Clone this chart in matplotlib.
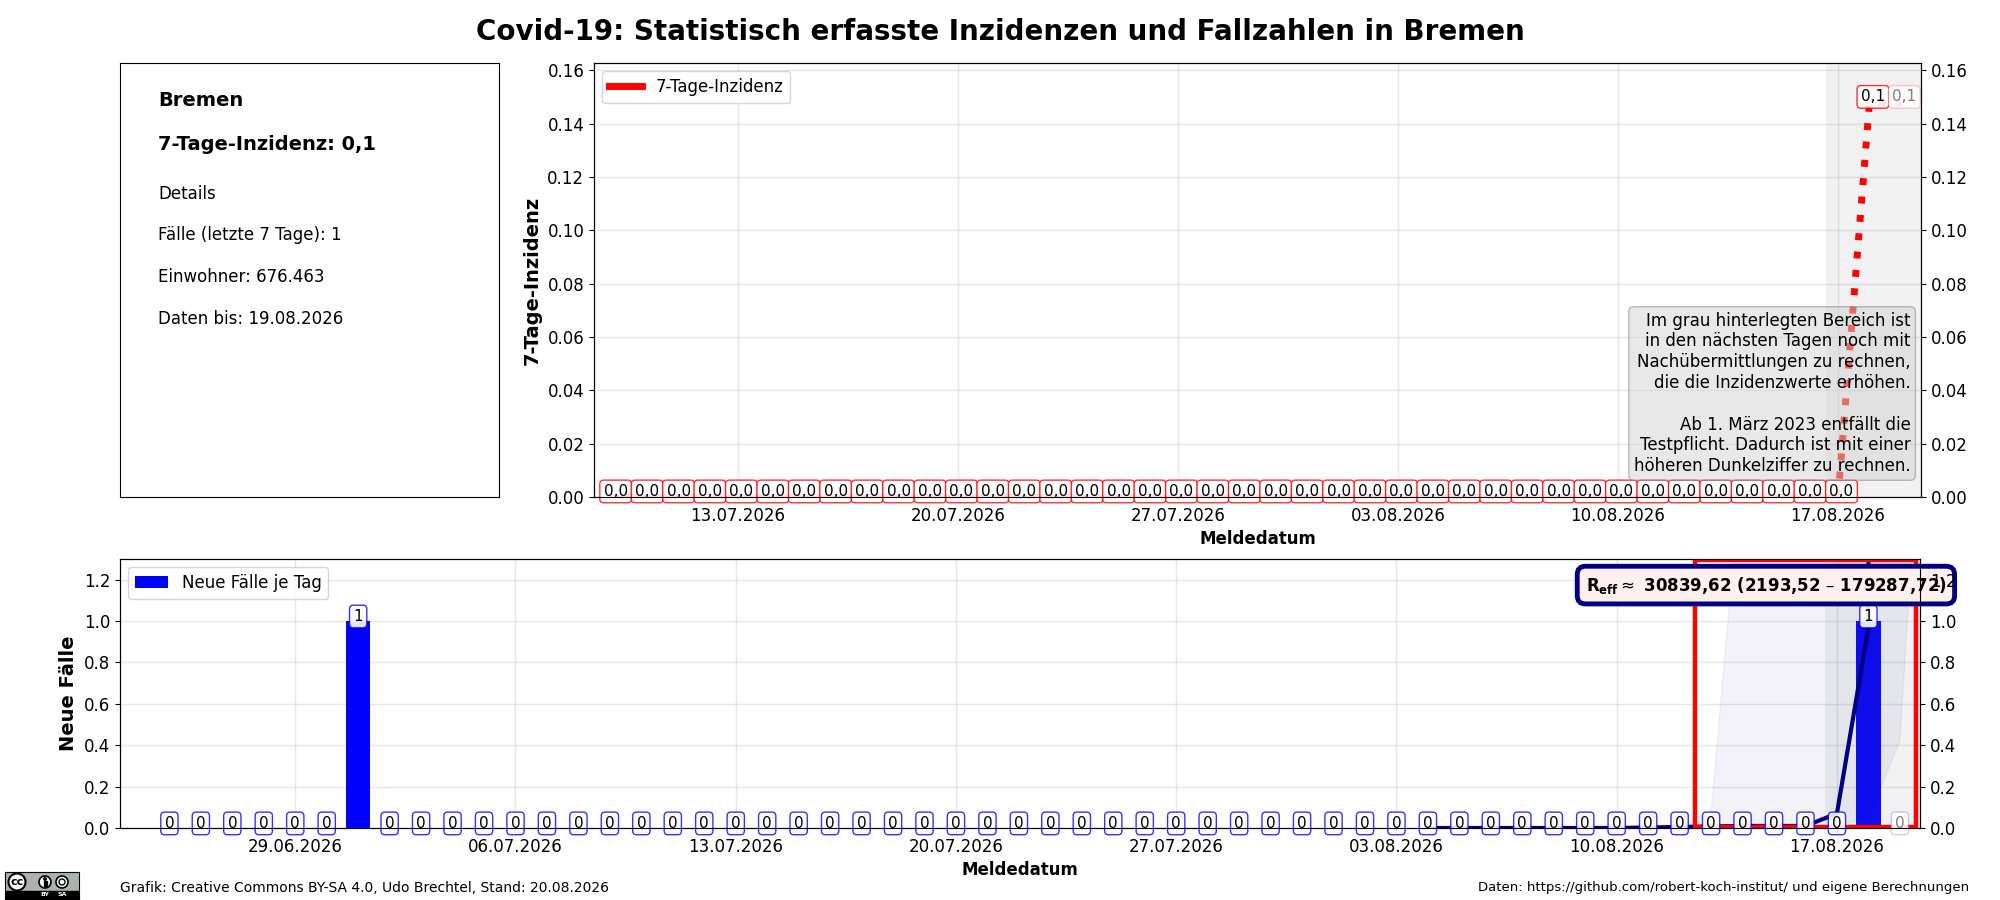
import matplotlib
matplotlib.use('Agg')
import matplotlib.pyplot as plt
import matplotlib.dates as mdates
from matplotlib.patches import Rectangle, Circle
from datetime import datetime, timedelta

W, H = 2000, 900

# Daten
start_inz = datetime(2026, 7, 9)
inzidenz = [0.0] * 40 + [0.148, 0.148]
start_faelle = datetime(2026, 6, 25)
faelle = [0, 0, 0, 0, 0, 0, 1] + [0] * 47 + [1, 0]
reff_tage = [datetime(2026, 8, d) for d in [4, 6, 8, 10, 12, 14, 16, 17, 18, 18]]
reff_werte = [0.0, 0.0, 0.0, 0.0, 0.005, 0.01, 0.01, 0.07, 0.97, 1.5]
band_tage = [datetime(2026, 8, d) for d in range(12, 21)]
band_unten = [0.0, 0.0, 0.0, 0.0, 0.0, 0.01, 0.05, 0.42, 2.85]
band_oben = [0.0, 0.08, 1.8, 5.0, 5.0, 5.0, 5.0, 5.0, 5.0]
info_titel = ['Bremen', '7-Tage-Inzidenz: 0,1']
info_zeilen = ['Details', 'Fälle (letzte 7 Tage): 1', 'Einwohner: 676.463', 'Daten bis: 19.08.2026']
hinweis = ('Im grau hinterlegten Bereich ist\nin den nächsten Tagen noch mit\n'
           'Nachübermittlungen zu rechnen,\ndie die Inzidenzwerte erhöhen.\n\n'
           'Ab 1. März 2023 entfällt die\nTestpflicht. Dadurch ist mit einer\n'
           'höheren Dunkelziffer zu rechnen.')
reff_text = r'$\mathbf{R_{eff}}\approx$ 30839,62 (2193,52 – 179287,72)'


def achse(x0, y0, x1, y1):
    # Pixel (von oben gezaehlt) nach Figure-Koordinaten
    return fig.add_axes([x0 / W, 1 - y1 / H, (x1 - x0) / W, (y1 - y0) / H])


def datumsachse(ax, links, rechts):
    ax.set_xlim(links, rechts)
    ax.xaxis.set_major_locator(mdates.WeekdayLocator(byweekday=mdates.MO))
    ax.xaxis.set_major_formatter(mdates.DateFormatter('%d.%m.%Y'))
    ax.tick_params(labelsize=12)
    ax.tick_params(axis='x', pad=4)
    ax.grid(True, alpha=0.3, linewidth=1)
    ax.set_axisbelow(True)


fig = plt.figure(figsize=(20, 9), dpi=100)
fig.text(0.5, 1 - 32 / H, 'Covid-19: Statistisch erfasste Inzidenzen und Fallzahlen in Bremen',
         ha='center', va='center', fontsize=20, fontweight='bold')

# Infobox
box = achse(120, 63, 499, 497)
box.set_xticks([])
box.set_yticks([])
fig.text(158 / W, 1 - 100 / H, info_titel[0], fontsize=14, fontweight='bold', va='center')
fig.text(158 / W, 1 - 144 / H, info_titel[1], fontsize=14, fontweight='bold', va='center')
for zeile, y in zip(info_zeilen, [194, 235, 277, 319]):
    fig.text(158 / W, 1 - y / H, zeile, fontsize=12, va='center')

# 7-Tage-Inzidenz
ax1 = achse(594, 63, 1921, 497)
tage1 = [start_inz + timedelta(days=i) for i in range(len(inzidenz))]
ax1.plot(tage1[:40], inzidenz[:40], color='red', linewidth=5, label='7-Tage-Inzidenz')
ax1.plot(tage1[39:], inzidenz[39:], color='red', linewidth=5, linestyle=':')
ax1.axvspan(datetime(2026, 8, 16, 15), datetime(2026, 8, 21), color='gray', alpha=0.11, linewidth=0)
datumsachse(ax1, mdates.date2num(start_inz) - 0.58, mdates.date2num(tage1[-1]) + 0.64)
ax1.set_ylim(0, max(inzidenz) * 1.1)
ax1.set_yticks([i / 100 for i in range(0, 17, 2)])
ax1.set_ylabel('7-Tage-Inzidenz', fontsize=14, fontweight='bold')
ax1.set_xlabel('Meldedatum', fontsize=12, fontweight='bold', labelpad=3)
ax1.legend(loc='upper left', fontsize=12)
for i, (t, v) in enumerate(zip(tage1, inzidenz)):
    letzter = i == len(inzidenz) - 1
    ax1.annotate(f'{v:.1f}'.replace('.', ','), (t, v), xytext=(2.5, 4), textcoords='offset points',
                 ha='center', va='center', fontsize=11, color='gray' if letzter else 'black',
                 bbox=dict(boxstyle='round,pad=0.25', facecolor=(1, 1, 1, 0.9),
                           edgecolor=(1, 0, 0, 0.2 if letzter else 0.8)))
ax1.text(0.992, 0.05, hinweis, transform=ax1.transAxes, ha='right', va='bottom', fontsize=12,
         bbox=dict(boxstyle='round', facecolor='lightgray', edgecolor='gray', alpha=0.5), zorder=5)
ax1r = ax1.twinx()
ax1r.set_ylim(ax1.get_ylim())
ax1r.set_yticks(ax1.get_yticks())
ax1r.tick_params(labelsize=12)

# Neue Faelle
ax2 = achse(120, 559, 1920, 828)
tage2 = [start_faelle + timedelta(days=i) for i in range(len(faelle))]
ax2.bar(tage2, faelle, width=0.78, color='blue', label='Neue Fälle je Tag')
ax2.axvspan(datetime(2026, 8, 16, 15), datetime(2026, 8, 21), color='gray', alpha=0.11, linewidth=0, zorder=2)
ax2.fill_between(band_tage, band_unten, band_oben, color='navy', alpha=0.05, zorder=2)
ax2.plot(reff_tage, reff_werte, color='navy', linewidth=3, zorder=2.5)
datumsachse(ax2, mdates.date2num(start_faelle) - 1.57, mdates.date2num(tage2[-1]) + 0.64)
ax2.set_ylim(0, max(faelle) * 1.3)
ax2.set_yticks([0, 0.2, 0.4, 0.6, 0.8, 1.0, 1.2])
ax2.set_ylabel('Neue Fälle', fontsize=14, fontweight='bold')
ax2.set_xlabel('Meldedatum', fontsize=12, fontweight='bold', labelpad=3)
ax2.legend(loc='upper left', fontsize=12)
links = mdates.date2num(datetime(2026, 8, 12)) + 0.48
rechts = mdates.date2num(datetime(2026, 8, 19)) + 0.51
ax2.add_patch(Rectangle((links, 0.005), rechts - links, 1.29, fill=False, edgecolor='red', linewidth=3.2, zorder=2.6))
for i, (t, v) in enumerate(zip(tage2, faelle)):
    letzter = i == len(faelle) - 1
    ax2.annotate(str(v), (t, v), xytext=(0, 3.3), textcoords='offset points',
                 ha='center', va='center', fontsize=11, color='gray' if letzter else 'black',
                 bbox=dict(boxstyle='round,pad=0.25', facecolor=(1, 1, 1, 0.9),
                           edgecolor=(0, 0, 1, 0.2 if letzter else 0.8)))
ax2.text(0.9144, 0.903, reff_text, transform=ax2.transAxes, ha='center', va='center', fontsize=12,
         fontweight='bold', clip_on=False, zorder=6,
         bbox=dict(boxstyle='round,pad=0.5', facecolor='#fff0f0', edgecolor='navy', linewidth=3.5))
ax2r = ax2.twinx()
ax2r.set_ylim(ax2.get_ylim())
ax2r.set_yticks(ax2.get_yticks())
ax2r.tick_params(labelsize=12)

# Fusszeile
fig.text(120 / W, 1 - 888 / H, 'Grafik: Creative Commons BY-SA 4.0, Udo Brechtel, Stand: 20.08.2026',
         fontsize=10, va='center')
fig.text(1969 / W, 1 - 888 / H, 'Daten: https://github.com/robert-koch-institut/ und eigene Berechnungen',
         fontsize=9.5, va='center', ha='right')

# CC-Logo
logo = achse(5, 872, 79, 899)
logo.set_xlim(0, 74)
logo.set_ylim(27, 0)
logo.set_xticks([])
logo.set_yticks([])
logo.set_facecolor('#aab2ab')
logo.add_patch(Rectangle((0, 19), 74, 8, color='black'))
logo.add_patch(Circle((12, 10), 8.5, facecolor='white', edgecolor='black', linewidth=1.5))
logo.add_patch(Circle((40, 10), 6, facecolor='white', edgecolor='black', linewidth=1.2))
logo.add_patch(Circle((57, 10), 6, facecolor='white', edgecolor='black', linewidth=1.2))
logo.add_patch(Circle((40, 7), 1.2, color='black'))
logo.add_patch(Rectangle((38.5, 9), 3, 5, color='black'))
logo.add_patch(Circle((57, 10), 3, fill=False, edgecolor='black', linewidth=1))
logo.text(12, 10, 'cc', fontsize=8, fontweight='bold', ha='center', va='center')
logo.text(40, 23, 'BY', fontsize=4.5, fontweight='bold', color='white', ha='center', va='center')
logo.text(57, 23, 'SA', fontsize=4.5, fontweight='bold', color='white', ha='center', va='center')

fig.savefig('out.png', dpi=100)
